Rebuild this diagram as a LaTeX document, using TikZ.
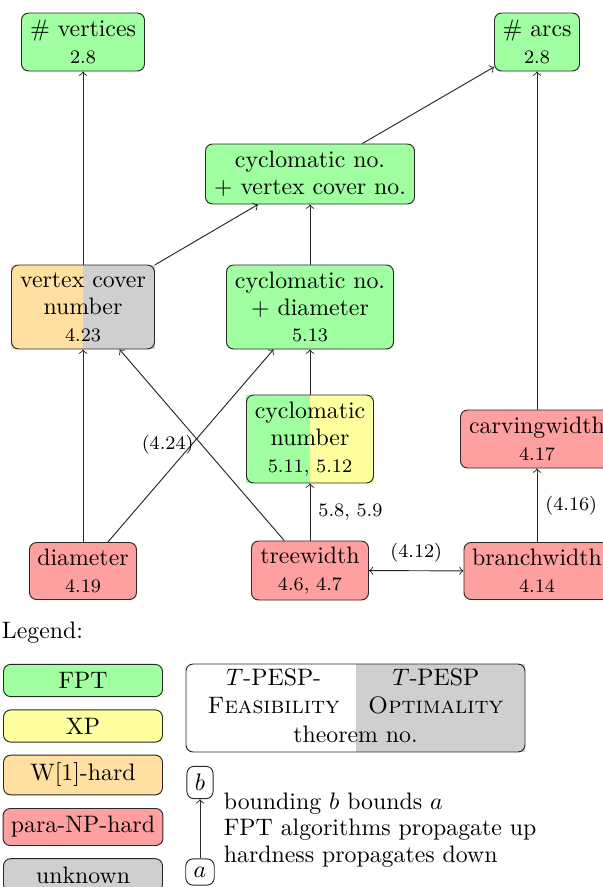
\documentclass[tikz,border=0pt]{standalone}
\usetikzlibrary{backgrounds}
\newcommand\PX{*0.42pt}
\definecolor{fptc}{RGB}{160,255,160}
\definecolor{xpc}{RGB}{255,255,160}
\definecolor{w1c}{RGB}{255,224,160}
\definecolor{pnpc}{RGB}{255,160,160}
\definecolor{unkc}{RGB}{207,207,207}
\definecolor{linec}{RGB}{40,40,40}
\tikzset{
  box/.style={draw=linec, rounded corners=3pt, align=center, inner sep=1pt,
    font=\fontsize{10}{11.3}\selectfont},
  fptbox/.style={box, fill=fptc},
  pnpbox/.style={box, fill=pnpc},
  lgbox/.style={draw=linec, rounded corners=3pt, minimum width=159\PX},
  conn/.style={->, draw=linec},
  elabel/.style={font=\footnotesize},
}
\begin{document}
\begin{tikzpicture}[x=0.42pt,y=-0.42pt,>=to]
\useasboundingbox (0,0) rectangle (603,887);
% parameter nodes
\node[fptbox, minimum width=123\PX, minimum height=58\PX] (nv) at (83,42) {\# vertices\\{\footnotesize 2.8}};
\node[fptbox, minimum width=85\PX, minimum height=58\PX] (na) at (537,42) {\# arcs\\{\footnotesize 2.8}};
\node[fptbox, minimum width=209\PX, minimum height=60\PX] (cvc) at (310,174) {cyclomatic no.\\+ vertex cover no.};
\node[box, minimum width=143\PX, minimum height=84\PX] (vc) at (83,307) {vertex cover\\number\\{\footnotesize 4.23}};
\node[fptbox, minimum width=167\PX, minimum height=84\PX] (cd) at (310,307) {cyclomatic no.\\+ diameter\\{\footnotesize 5.13}};
\node[box, minimum width=127\PX, minimum height=88\PX] (cn) at (310,439) {cyclomatic\\number\\{\footnotesize 5.11, 5.12}};
\node[pnpbox, minimum width=107\PX, minimum height=57\PX] (dm) at (83,571) {diameter\\{\footnotesize 4.19}};
\node[pnpbox, minimum width=117\PX, minimum height=59\PX] (tw) at (310,570.5) {treewidth\\{\footnotesize 4.6, 4.7}};
\node[pnpbox, minimum width=146\PX, minimum height=57\PX] (bw) at (537,571) {branchwidth\\{\footnotesize 4.14}};
\node[pnpbox, minimum width=153\PX, minimum height=58\PX] (cw) at (537,439) {carvingwidth\\{\footnotesize 4.17}};
% connectors
\draw[conn] (vc) -- (nv);
\draw[conn] (vc) -- (cvc);
\draw[conn] (cvc) -- (na);
\draw[conn] (cd) -- (cvc);
\draw[conn] (cn) -- (cd);
\draw[conn] (tw) -- node[right, elabel] {5.8, 5.9} (cn);
\draw[conn] (dm) -- (vc);
\draw[conn] (dm) -- (cd);
\draw[conn] (tw) -- node[left, elabel] {(4.24)} (vc);
\draw[conn, <->] (tw) -- node[above, elabel] {(4.12)} (bw);
\draw[conn] (bw) -- node[right, elabel] {(4.16)} (cw);
\draw[conn] (cw) -- (na);
% legend
\node[anchor=base west, inner sep=0] (lg) at (1.5,638) {Legend:};
\node[lgbox, fill=fptc] (lf) at (83,680.5) {FPT};
\node[lgbox, fill=xpc] (lx) at (83,726) {XP};
\node[lgbox, fill=w1c] (lw) at (83,775) {W[1]-hard};
\node[lgbox, fill=pnpc] (lp) at (83,827) {para-NP-hard};
\node[lgbox, fill=unkc] (lu) at (83,875) {unknown};
\node[draw=linec, rounded corners=3pt, minimum width=339\PX, minimum height=88\PX, inner sep=0] (tp) at (355.5,708)
  {\begin{tabular}{cc}$T$-PESP- & $T$-PESP\\ \textsc{Feasibility} & \textsc{Optimality}\\ \multicolumn{2}{c}{theorem no.}\end{tabular}};
\node[draw=linec, rounded corners=3pt] (lb) at (200,782.5) {$b$};
\node[draw=linec, rounded corners=3pt] (la) at (200,872) {$a$};
\draw[conn] (la) -- (lb);
\node[anchor=west, align=left, font=\fontsize{10}{11.1}\selectfont] (lt) at (215.5,830) {bounding $b$ bounds $a$\\FPT algorithms propagate up\\hardness propagates down};
% split fills
\begin{scope}[on background layer]
\fill[w1c] (vc.south west) rectangle (vc.north);
\fill[unkc] (vc.south) rectangle (vc.north east);
\fill[fptc] (cn.south west) rectangle (cn.north);
\fill[xpc] (cn.south) rectangle (cn.north east);
\fill[unkc] (tp.south) rectangle (tp.north east);
\end{scope}
\end{tikzpicture}
\end{document}
